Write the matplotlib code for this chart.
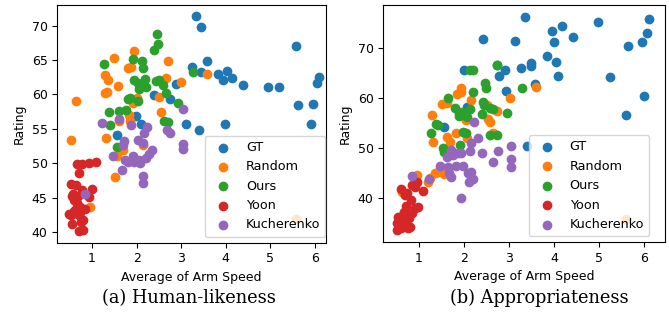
import numpy as np
import matplotlib.pyplot as plt

methods = ["GT", "Random", "Ours", "Yoon", "Kucherenko"]
colors = ["#1f77b4", "#ff7f0e", "#2ca02c", "#d62728", "#9467bd"]

# (a) Human-likeness
hl_gt_x = [3.34, 3.45, 5.57, 3.57, 3.24, 3.45, 3.82, 4.03, 3.95, 4.13, 4.39, 4.95, 5.20, 6.09,
           6.05, 5.63, 5.95, 5.91, 3.98, 3.11, 3.39, 2.76, 2.88, 2.40, 1.99, 2.10, 1.55]
hl_gt_y = [71.35, 69.85, 67.1, 64.8, 64.05, 63.2, 63.0, 63.45, 62.05, 62.35, 61.35, 61.15, 61.05, 62.6,
           61.65, 58.4, 58.55, 55.75, 55.7, 55.75, 54.8, 59.3, 61.5, 59.95, 56.85, 55.65, 54.15]
hl_rand_x = [1.94, 1.50, 2.71, 1.81, 1.87, 1.29, 1.35, 1.58, 2.65, 3.00, 1.29, 1.34, 0.64, 2.01,
             1.92, 2.51, 2.55, 1.83, 1.85, 0.53, 1.32, 1.61, 1.70, 1.52, 0.96, 2.15, 1.56, 3.57, 5.57]
hl_rand_y = [66.3, 65.35, 64.8, 63.8, 64.0, 62.8, 62.05, 61.3, 62.35, 61.8, 60.2, 60.3, 59.0, 59.5,
             58.8, 59.6, 57.5, 57.0, 56.2, 53.45, 53.6, 56.1, 52.0, 48.0, 43.6, 52.6, 51.0, 63.0, 41.9]
hl_ours_x = [2.46, 2.47, 2.40, 1.26, 1.91, 2.13, 2.14, 1.93, 2.03, 2.19, 2.21, 2.06, 2.43, 2.50,
             2.59, 2.65, 1.86, 2.03, 1.38, 1.60, 1.77, 1.40, 2.61, 2.70, 2.94, 1.56, 3.27, 1.81]
hl_ours_y = [68.85, 67.4, 66.4, 64.5, 65.15, 64.9, 63.85, 62.05, 61.6, 62.25, 61.1, 60.75, 61.9, 62.1,
             61.4, 60.2, 59.5, 59.0, 57.4, 57.6, 57.8, 55.5, 56.2, 56.0, 58.8, 52.3, 63.2, 59.4]
hl_yoon_x = [0.67, 0.78, 0.94, 1.09, 0.70, 0.52, 0.63, 0.78, 0.99, 0.55, 0.69, 0.59, 0.74, 0.63,
             0.52, 0.70, 0.80, 0.54, 0.70, 0.80, 0.92, 0.72, 0.60, 0.48, 0.66, 0.84, 0.76, 0.58]
hl_yoon_y = [49.9, 49.9, 50.1, 50.25, 48.55, 47.0, 46.8, 46.15, 46.3, 45.2, 45.3, 44.7, 43.7, 43.3,
             42.5, 42.5, 41.8, 41.2, 40.2, 40.35, 45.1, 42.9, 43.0, 42.6, 44.2, 43.4, 41.5, 45.6]
hl_kuch_x = [1.22, 1.88, 1.71, 1.70, 1.47, 2.03, 2.16, 2.23, 2.14, 1.92, 1.75, 1.67, 2.05, 2.20,
             2.35, 2.27, 2.14, 2.14, 2.68, 2.76, 3.05, 3.05, 0.85, 1.61, 3.05, 1.80, 1.95, 2.08]
hl_kuch_y = [55.9, 55.6, 53.2, 52.7, 51.0, 53.4, 54.4, 55.25, 52.9, 51.0, 50.5, 49.05, 50.5, 50.75,
             52.0, 51.3, 48.1, 47.2, 54.85, 54.45, 52.8, 52.1, 45.55, 56.45, 57.9, 50.2, 50.2, 50.0]

# (b) Appropriateness
ap_gt_x = [3.35, 4.17, 3.96, 4.98, 6.11, 6.07, 4.41, 2.41, 3.13, 4.00, 5.95, 5.64, 3.84, 4.04,
           2.73, 3.48, 3.48, 3.26, 2.90, 2.00, 2.77, 4.09, 5.23, 2.93, 3.58, 6.00, 5.59, 3.39, 1.55, 2.06]
ap_gt_y = [76.2, 74.4, 73.4, 75.05, 75.65, 72.85, 72.2, 71.7, 71.3, 71.2, 71.05, 70.25, 68.4, 67.1,
           66.55, 66.9, 66.3, 65.85, 65.6, 65.5, 64.25, 64.25, 64.1, 61.4, 62.8, 60.35, 56.55, 50.4, 54.2, 58.2]
ap_rand_x = [3.59, 3.02, 1.93, 1.84, 1.93, 2.16, 1.51, 1.62, 1.29, 2.51, 2.72, 2.04, 1.31, 1.61,
             1.83, 2.01, 2.07, 1.68, 1.42, 1.35, 1.24, 1.20, 0.96, 0.62, 1.56, 2.53, 2.58, 2.64, 5.60]
ap_rand_y = [62.1, 60.0, 61.9, 60.7, 61.2, 59.5, 58.7, 58.9, 56.5, 58.5, 57.3, 55.5, 51.2, 52.2,
             52.9, 52.9, 51.9, 51.2, 45.2, 44.9, 43.9, 43.2, 44.5, 41.2, 44.7, 55.8, 55.2, 53.0, 35.7]
ap_ours_x = [3.28, 2.96, 2.14, 2.20, 2.74, 2.47, 2.49, 2.20, 1.64, 1.79, 1.88, 1.96, 2.14, 1.88,
             2.07, 2.42, 2.44, 2.57, 2.64, 2.39, 2.57, 2.72, 1.37, 1.27, 1.42, 1.98, 2.05, 1.92, 1.53, 1.56]
ap_ours_y = [61.9, 56.9, 65.5, 65.5, 66.5, 63.0, 61.9, 61.1, 59.9, 57.9, 56.9, 57.2, 57.7, 56.3,
             56.2, 59.2, 58.5, 57.9, 57.7, 56.7, 52.5, 52.6, 54.7, 52.9, 54.5, 53.2, 52.9, 50.5, 49.9, 49.2]
ap_yoon_x = [0.61, 0.84, 0.91, 1.09, 0.95, 0.68, 0.83, 0.70, 0.90, 0.98, 0.53, 0.64, 0.78, 0.85,
             0.50, 0.61, 0.72, 0.76, 0.50, 0.61, 0.79, 0.56, 0.66, 0.73]
ap_yoon_y = [41.7, 42.5, 42.1, 41.3, 43.2, 40.5, 39.5, 38.3, 37.9, 38.1, 36.2, 36.5, 35.9, 36.9,
             34.9, 34.9, 35.2, 33.9, 33.5, 33.9, 34.2, 35.6, 37.2, 40.9]
ap_kuch_x = [0.84, 1.21, 1.61, 1.72, 1.76, 1.87, 1.94, 2.16, 2.31, 2.14, 2.39, 2.76, 2.64, 1.46,
             1.64, 1.83, 1.98, 1.72, 2.09, 2.16, 2.11, 2.20, 1.93, 2.22, 3.04, 3.04, 3.04, 1.67]
ap_kuch_y = [44.4, 43.7, 48.2, 49.5, 48.5, 48.9, 48.9, 50.9, 51.9, 49.4, 49.0, 49.4, 47.2, 46.3,
             46.2, 46.3, 46.3, 44.2, 45.0, 45.2, 43.2, 43.7, 40.0, 55.1, 50.4, 47.7, 46.2, 45.0]

panels = [
    ("(a) Human-likeness", [(hl_gt_x, hl_gt_y), (hl_rand_x, hl_rand_y), (hl_ours_x, hl_ours_y),
                            (hl_yoon_x, hl_yoon_y), (hl_kuch_x, hl_kuch_y)], [40, 45, 50, 55, 60, 65, 70]),
    ("(b) Appropriateness", [(ap_gt_x, ap_gt_y), (ap_rand_x, ap_rand_y), (ap_ours_x, ap_ours_y),
                             (ap_yoon_x, ap_yoon_y), (ap_kuch_x, ap_kuch_y)], [40, 50, 60, 70]),
]

fig = plt.figure(figsize=(6.69, 3.14), dpi=100)
axes = [fig.add_axes([0.0857, 0.227, 0.4015, 0.757]),
        fig.add_axes([0.5730, 0.230, 0.4210, 0.754])]
caption_x = [189 / 669, 539.5 / 669]
legend_anchor = [(0.998, 0.026), (0.944, 0.024)]

for ax, (caption, series, yticks), cx, anchor in zip(axes, panels, caption_x, legend_anchor):
    for (x, y), name, c in zip(series, methods, colors):
        ax.scatter(x, y, s=36, color=c, label=name)
    ax.set_xticks([1, 2, 3, 4, 5, 6])
    ax.set_yticks(yticks)
    ax.tick_params(labelsize=9)
    ax.set_xlabel("Average of Arm Speed", fontsize=9)
    ax.set_ylabel("Rating", fontsize=9)
    ax.legend(loc="lower right", bbox_to_anchor=anchor, borderaxespad=0, fontsize=9.2)
    fig.text(cx, 0.05, caption, ha="center", va="center", fontsize=12.8, family="DejaVu Serif")

axes[0].set_xlim(0.22, 6.25)
axes[0].set_ylim(38.45, 73.0)
axes[1].set_xlim(0.207, 6.46)
axes[1].set_ylim(31.2, 78.5)

fig.savefig("out.png", dpi=100)
